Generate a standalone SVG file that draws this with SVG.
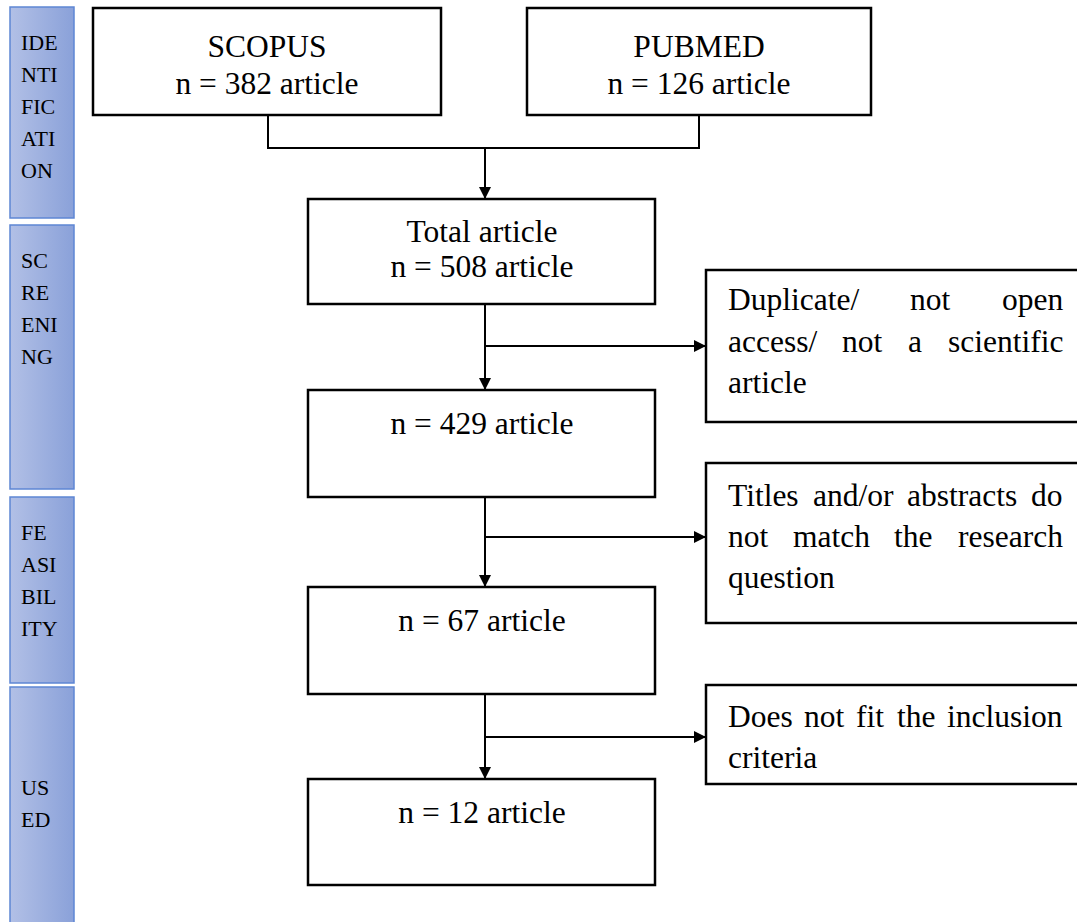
<svg xmlns="http://www.w3.org/2000/svg" width="1077" height="922" viewBox="0 0 1077 922">
<defs>
<linearGradient id="barGrad" x1="0" y1="0" x2="1" y2="0">
<stop offset="0" stop-color="#b2c0e6"/>
<stop offset="1" stop-color="#8aa1d9"/>
</linearGradient>
<marker id="arrow" viewBox="0 0 10 10" refX="10" refY="5" markerWidth="6" markerHeight="6" markerUnits="strokeWidth" orient="auto">
<path d="M0,0 L10,5 L0,10 z" fill="#000"/>
</marker>
</defs>
<style>
.bar{fill:url(#barGrad);stroke:#5e86d4;stroke-width:1.5}
.lbl{font-family:"Liberation Serif","Times New Roman",serif;font-size:22px;fill:#000}
.box{fill:#fff;stroke:#000;stroke-width:2.5}
.t{font-family:"Liberation Serif","Times New Roman",serif;font-size:31.5px;fill:#000}
.c{text-anchor:middle}
.ln{fill:none;stroke:#000;stroke-width:2}
</style>
<rect width="1077" height="922" fill="#fff"/>

<g id="stage-identification">
<rect class="bar" x="10" y="7" width="64" height="211"/>
<text class="lbl" x="21" y="50">IDE</text>
<text class="lbl" x="21" y="82">NTI</text>
<text class="lbl" x="21" y="114">FIC</text>
<text class="lbl" x="21" y="146">ATI</text>
<text class="lbl" x="21" y="178">ON</text>
</g>
<g id="stage-screening">
<rect class="bar" x="10" y="225" width="64" height="264"/>
<text class="lbl" x="21" y="268">SC</text>
<text class="lbl" x="21" y="300">RE</text>
<text class="lbl" x="21" y="332">ENI</text>
<text class="lbl" x="21" y="364">NG</text>
</g>
<g id="stage-feasibility">
<rect class="bar" x="10" y="497" width="64" height="186"/>
<text class="lbl" x="21" y="540">FE</text>
<text class="lbl" x="21" y="572">ASI</text>
<text class="lbl" x="21" y="604">BIL</text>
<text class="lbl" x="21" y="636">ITY</text>
</g>
<g id="stage-used">
<rect class="bar" x="10" y="687" width="64" height="245"/>
<text class="lbl" x="21" y="795">US</text>
<text class="lbl" x="21" y="827">ED</text>
</g>

<g id="connectors">
<polyline class="ln" points="268,115 268,148 699,148 699,115"/>
<line class="ln" x1="485" y1="148" x2="485" y2="199" marker-end="url(#arrow)"/>
<line class="ln" x1="485" y1="304" x2="485" y2="390" marker-end="url(#arrow)"/>
<line class="ln" x1="485" y1="346" x2="706" y2="346" marker-end="url(#arrow)"/>
<line class="ln" x1="485" y1="497" x2="485" y2="587" marker-end="url(#arrow)"/>
<line class="ln" x1="485" y1="537" x2="706" y2="537" marker-end="url(#arrow)"/>
<line class="ln" x1="485" y1="694" x2="485" y2="779" marker-end="url(#arrow)"/>
<line class="ln" x1="485" y1="737" x2="706" y2="737" marker-end="url(#arrow)"/>
</g>

<g id="scopus">
<rect class="box" x="93" y="8" width="348" height="107"/>
<text class="t c" x="267" y="57">SCOPUS</text>
<text class="t c" x="267" y="94">n = 382 article</text>
</g>
<g id="pubmed">
<rect class="box" x="527" y="8" width="344" height="107"/>
<text class="t c" x="699" y="57">PUBMED</text>
<text class="t c" x="699" y="94">n = 126 article</text>
</g>
<g id="total">
<rect class="box" x="308" y="199" width="347" height="105"/>
<text class="t c" x="482" y="242">Total article</text>
<text class="t c" x="482" y="277">n = 508 article</text>
</g>
<g id="n429">
<rect class="box" x="308" y="390" width="347" height="107"/>
<text class="t c" x="482" y="434">n = 429 article</text>
</g>
<g id="n67">
<rect class="box" x="308" y="587" width="347" height="107"/>
<text class="t c" x="482" y="631">n = 67 article</text>
</g>
<g id="n12">
<rect class="box" x="308" y="779" width="347" height="106"/>
<text class="t c" x="482" y="823">n = 12 article</text>
</g>

<g id="excluded-1">
<rect class="box" x="706" y="270" width="390" height="152"/>
<text class="t" y="310"><tspan x="728">Duplicate/</tspan><tspan x="910">not</tspan><tspan x="1002">open</tspan></text>
<text class="t" y="352"><tspan x="728">access/</tspan><tspan x="842">not</tspan><tspan x="908">a</tspan><tspan x="948">scientific</tspan></text>
<text class="t" x="728" y="393">article</text>
</g>
<g id="excluded-2">
<rect class="box" x="706" y="463" width="390" height="160"/>
<text class="t" y="506"><tspan x="728">Titles</tspan><tspan x="813">and/or</tspan><tspan x="907">abstracts</tspan><tspan x="1031">do</tspan></text>
<text class="t" y="547"><tspan x="728">not</tspan><tspan x="793">match</tspan><tspan x="894">the</tspan><tspan x="958">research</tspan></text>
<text class="t" x="728" y="588">question</text>
</g>
<g id="excluded-3">
<rect class="box" x="706" y="685" width="390" height="99"/>
<text class="t" y="727"><tspan x="728">Does</tspan><tspan x="804">not</tspan><tspan x="856">fit</tspan><tspan x="897">the</tspan><tspan x="947">inclusion</tspan></text>
<text class="t" x="728" y="768">criteria</text>
</g>
</svg>
